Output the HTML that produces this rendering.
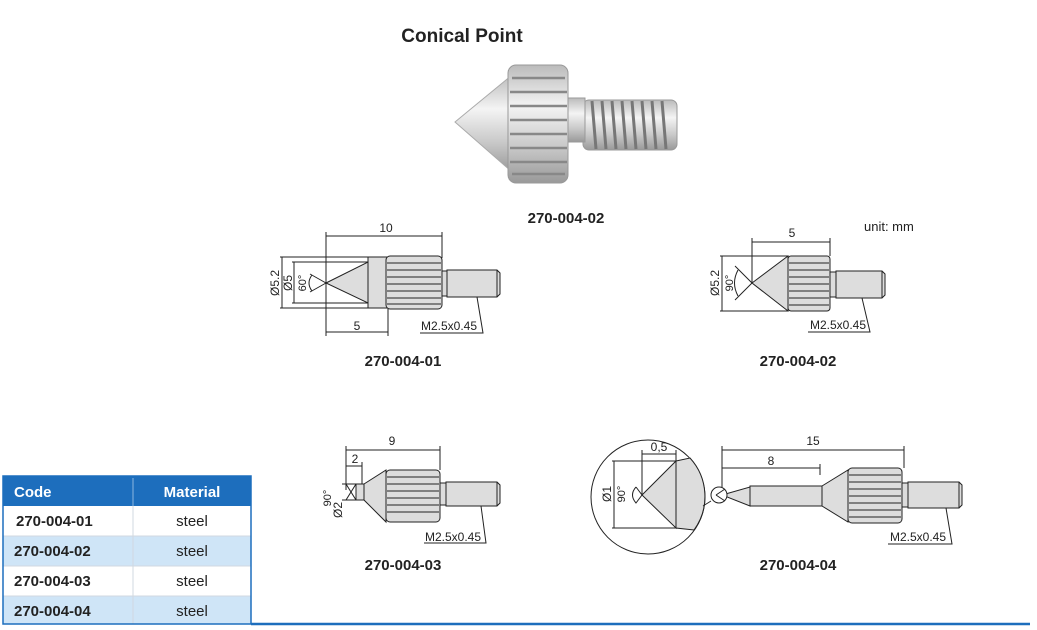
<!DOCTYPE html>
<html><head><meta charset="utf-8"><style>
html,body{margin:0;padding:0;background:#fff;}
svg{display:block;font-family:"Liberation Sans",Arial,sans-serif;}
.l{stroke:#222;stroke-width:1;fill:none}
.g{fill:#ddd;stroke:#222;stroke-width:1}
.t{font-size:12px;fill:#222}
.b{font-size:15px;font-weight:bold;fill:#222}
</style></head><body>
<svg width="1037" height="630" viewBox="0 0 1037 630">
<defs>
<linearGradient id="met" x1="0" y1="0" x2="0" y2="1">
<stop offset="0" stop-color="#bbb"/><stop offset="0.35" stop-color="#f4f4f4"/><stop offset="0.7" stop-color="#c8c8c8"/><stop offset="1" stop-color="#999"/>
</linearGradient>
</defs>
<text x="462" y="42" text-anchor="middle" style="font-size:19px;font-weight:bold" fill="#222">Conical Point</text>
<!-- photo -->
<polygon points="455,122 512,75 512,172" fill="url(#met)" stroke="#aaa"/>
<rect x="583" y="100" width="94" height="50" rx="6" fill="url(#met)" stroke="#999"/>
<g stroke="#777" stroke-width="3">
<line x1="592" y1="101" x2="596" y2="149"/><line x1="602" y1="101" x2="606" y2="149"/><line x1="612" y1="101" x2="616" y2="149"/><line x1="622" y1="101" x2="626" y2="149"/><line x1="632" y1="101" x2="636" y2="149"/><line x1="642" y1="101" x2="646" y2="149"/><line x1="652" y1="101" x2="656" y2="149"/><line x1="662" y1="101" x2="666" y2="149"/></g>
<rect x="563" y="98" width="22" height="44" fill="url(#met)" stroke="#999"/>
<rect x="508" y="65" width="60" height="118" rx="8" fill="url(#met)" stroke="#999"/>
<g stroke="#888" stroke-width="2.5">
<line x1="512" y1="78" x2="565" y2="78"/><line x1="510" y1="92" x2="567" y2="92"/><line x1="510" y1="106" x2="567" y2="106"/><line x1="510" y1="120" x2="567" y2="120"/><line x1="510" y1="134" x2="567" y2="134"/><line x1="510" y1="148" x2="567" y2="148"/><line x1="510" y1="162" x2="567" y2="162"/><line x1="512" y1="174" x2="565" y2="174"/></g>
<text x="566" y="223" text-anchor="middle" class="b">270-004-02</text>
<text x="864" y="231" class="t" style="font-size:13px">unit: mm</text>

<!-- Drawing 1 -->
<g>
<line class="l" x1="326" y1="232" x2="326" y2="336"/><line class="l" x1="442" y1="232" x2="442" y2="258"/>
<line class="l" x1="326" y1="236" x2="442" y2="236"/><text x="386" y="232" text-anchor="middle" class="t">10</text>
<line class="l" x1="388" y1="308" x2="388" y2="336"/>
<line class="l" x1="326" y1="332" x2="388" y2="332"/><text x="357" y="330" text-anchor="middle" class="t">5</text>
<rect class="g" x="368" y="257" width="20" height="51"/>
<polygon class="g" points="326,283 368,262 368,303"/>
<line class="l" x1="280" y1="257" x2="386" y2="257"/><line class="l" x1="280" y1="308" x2="386" y2="308"/>
<line class="l" x1="292" y1="262" x2="368" y2="262"/><line class="l" x1="292" y1="303" x2="368" y2="303"/>
<line class="l" x1="282" y1="257" x2="282" y2="308"/><line class="l" x1="294" y1="262" x2="294" y2="303"/>
<text transform="translate(279,283) rotate(-90)" text-anchor="middle" class="t">Ø5.2</text>
<text transform="translate(292,283) rotate(-90)" text-anchor="middle" class="t">Ø5</text>
<text transform="translate(306,283) rotate(-90)" text-anchor="middle" class="t" style="font-size:11px">60°</text>
<line class="l" x1="310" y1="274" x2="326" y2="283"/><line class="l" x1="310" y1="292" x2="326" y2="283"/>
<path class="l" d="M312,275 Q306,283 312,291"/>
<rect class="g" x="386" y="256" width="56" height="53" rx="4"/>
<g class="l"><line x1="387" y1="263" x2="441" y2="263"/><line x1="387" y1="270" x2="441" y2="270"/><line x1="387" y1="277" x2="441" y2="277"/><line x1="387" y1="284" x2="441" y2="284"/><line x1="387" y1="291" x2="441" y2="291"/><line x1="387" y1="298" x2="441" y2="298"/><line x1="387" y1="304" x2="441" y2="304"/></g>
<rect class="g" x="442" y="271" width="5" height="25"/>
<path class="g" d="M447,270 H497 L500,273 V294 L497,297 H447 Z"/>
<line class="l" x1="497" y1="270" x2="497" y2="297"/>
<polyline class="l" points="477,297 483,333 420,333"/>
<text x="421" y="330" class="t">M2.5x0.45</text>
<text x="403" y="366" text-anchor="middle" class="b">270-004-01</text>
</g>

<!-- Drawing 2 -->
<g>
<line class="l" x1="752" y1="238" x2="752" y2="283"/><line class="l" x1="830" y1="238" x2="830" y2="256"/>
<line class="l" x1="752" y1="242" x2="830" y2="242"/><text x="792" y="237" text-anchor="middle" class="t">5</text>
<polygon class="g" points="752,283 788,256 788,311"/>
<line class="l" x1="720" y1="256" x2="788" y2="256"/><line class="l" x1="720" y1="311" x2="788" y2="311"/>
<line class="l" x1="722" y1="256" x2="722" y2="311"/>
<text transform="translate(719,283) rotate(-90)" text-anchor="middle" class="t">Ø5.2</text>
<text transform="translate(733,283) rotate(-90)" text-anchor="middle" class="t" style="font-size:11px">90°</text>
<line class="l" x1="735" y1="266" x2="752" y2="283"/><line class="l" x1="735" y1="300" x2="752" y2="283"/>
<path class="l" d="M738,270 Q731,283 738,296"/>
<rect class="g" x="788" y="256" width="42" height="55" rx="3"/>
<g class="l"><line x1="789" y1="263" x2="829" y2="263"/><line x1="789" y1="270" x2="829" y2="270"/><line x1="789" y1="277" x2="829" y2="277"/><line x1="789" y1="284" x2="829" y2="284"/><line x1="789" y1="291" x2="829" y2="291"/><line x1="789" y1="298" x2="829" y2="298"/><line x1="789" y1="305" x2="829" y2="305"/></g>
<rect class="g" x="830" y="272" width="6" height="25"/>
<path class="g" d="M836,271 H882 L885,274 V295 L882,298 H836 Z"/>
<line class="l" x1="882" y1="271" x2="882" y2="298"/>
<polyline class="l" points="862,298 870,332 808,332"/>
<text x="810" y="329" class="t">M2.5x0.45</text>
<text x="798" y="366" text-anchor="middle" class="b">270-004-02</text>
</g>

<!-- Drawing 3 -->
<g>
<line class="l" x1="346" y1="446" x2="346" y2="490"/><line class="l" x1="440" y1="446" x2="440" y2="470"/>
<line class="l" x1="346" y1="450" x2="440" y2="450"/><text x="392" y="445" text-anchor="middle" class="t">9</text>
<line class="l" x1="362" y1="462" x2="362" y2="484"/>
<line class="l" x1="346" y1="466" x2="362" y2="466"/><text x="355" y="463" text-anchor="middle" class="t">2</text>
<rect class="g" x="356" y="484" width="8" height="16"/>
<polygon class="g" points="364,484 386,470 386,522 364,500"/>
<line class="l" x1="342" y1="484" x2="356" y2="484"/><line class="l" x1="342" y1="500" x2="356" y2="500"/>
<line class="l" x1="346" y1="484" x2="356" y2="500"/><line class="l" x1="346" y1="500" x2="356" y2="484"/>
<text transform="translate(331,498) rotate(-90)" text-anchor="middle" class="t" style="font-size:11px">90°</text>
<text transform="translate(342,510) rotate(-90)" text-anchor="middle" class="t">Ø2</text>
<rect class="g" x="386" y="470" width="54" height="52" rx="4"/>
<g class="l"><line x1="387" y1="477" x2="439" y2="477"/><line x1="387" y1="484" x2="439" y2="484"/><line x1="387" y1="491" x2="439" y2="491"/><line x1="387" y1="498" x2="439" y2="498"/><line x1="387" y1="505" x2="439" y2="505"/><line x1="387" y1="512" x2="439" y2="512"/></g>
<rect class="g" x="440" y="483" width="6" height="22"/>
<path class="g" d="M446,482 H497 L500,485 V503 L497,506 H446 Z"/>
<line class="l" x1="497" y1="482" x2="497" y2="506"/>
<polyline class="l" points="481,506 486,543 424,543"/>
<text x="425" y="541" class="t">M2.5x0.45</text>
<text x="403" y="570" text-anchor="middle" class="b">270-004-03</text>
</g>

<!-- Drawing 4 -->
<g>
<circle class="l" cx="648" cy="497" r="57"/>
<path d="M676,461 L690,458 A57,57 0 0 1 694,530 L676,528 Z" fill="#ddd" stroke="#222"/>
<polygon class="g" points="642,495 676,461 676,528"/>
<line class="l" x1="612" y1="461" x2="676" y2="461"/><line class="l" x1="612" y1="528" x2="676" y2="528"/>
<line class="l" x1="614" y1="461" x2="614" y2="528"/>
<line class="l" x1="642" y1="450" x2="642" y2="495"/><line class="l" x1="676" y1="450" x2="676" y2="461"/>
<line class="l" x1="642" y1="454" x2="676" y2="454"/><text x="659" y="451" text-anchor="middle" class="t">0,5</text>
<text transform="translate(611,494) rotate(-90)" text-anchor="middle" class="t">Ø1</text>
<text transform="translate(625,494) rotate(-90)" text-anchor="middle" class="t" style="font-size:11px">90°</text>
<path class="l" d="M636,487 L642,495 L636,503 Q629,495 636,487"/>
<line class="l" x1="703" y1="506" x2="711" y2="501"/>
<line class="l" x1="722" y1="446" x2="722" y2="495"/><line class="l" x1="904" y1="446" x2="904" y2="468"/>
<line class="l" x1="722" y1="450" x2="904" y2="450"/><text x="813" y="445" text-anchor="middle" class="t">15</text>
<line class="l" x1="820" y1="464" x2="820" y2="475"/>
<line class="l" x1="722" y1="468" x2="820" y2="468"/><text x="771" y="465" text-anchor="middle" class="t">8</text>
<polygon class="g" points="722,495 750,487 750,506"/>
<rect class="g" x="750" y="486" width="72" height="20"/>
<polygon class="g" points="822,486 848,470 848,522 822,506"/>
<rect class="g" x="848" y="468" width="54" height="55" rx="4"/>
<g class="l"><line x1="849" y1="475" x2="901" y2="475"/><line x1="849" y1="482" x2="901" y2="482"/><line x1="849" y1="489" x2="901" y2="489"/><line x1="849" y1="496" x2="901" y2="496"/><line x1="849" y1="503" x2="901" y2="503"/><line x1="849" y1="510" x2="901" y2="510"/><line x1="849" y1="517" x2="901" y2="517"/></g>
<rect class="g" x="902" y="483" width="6" height="24"/>
<path class="g" d="M908,482 H959 L962,485 V505 L959,508 H908 Z"/>
<line class="l" x1="959" y1="482" x2="959" y2="508"/>
<polyline class="l" points="946,508 952,544 888,544"/>
<text x="890" y="541" class="t">M2.5x0.45</text>
<circle cx="719" cy="495" r="8" fill="#fff" stroke="#222"/>
<line class="l" x1="716" y1="495" x2="725" y2="489"/><line class="l" x1="716" y1="495" x2="725" y2="501"/>
<text x="798" y="570" text-anchor="middle" class="b">270-004-04</text>
</g>

<!-- Table -->
<rect x="3" y="476" width="248" height="30" fill="#1d6ebd"/>
<line x1="133" y1="478" x2="133" y2="506" stroke="#8cb6e0"/>
<text x="14" y="497" style="font-size:15px;font-weight:bold" fill="#fff">Code</text>
<text x="192" y="497" text-anchor="middle" style="font-size:15px;font-weight:bold" fill="#fff">Material</text>
<rect x="3" y="506" width="248" height="30" fill="#fff"/>
<rect x="3" y="536" width="248" height="30" fill="#cfe5f7"/>
<rect x="3" y="566" width="248" height="30" fill="#fff"/>
<rect x="3" y="596" width="248" height="28" fill="#cfe5f7"/>
<g stroke="#d0d8e0"><line x1="3" y1="536" x2="251" y2="536"/><line x1="3" y1="566" x2="251" y2="566"/><line x1="3" y1="596" x2="251" y2="596"/><line x1="133" y1="506" x2="133" y2="624"/></g>
<rect x="3" y="476" width="248" height="148" fill="none" stroke="#1d6ebd" stroke-width="1.5"/>
<g style="font-size:15px;font-weight:bold" fill="#222">
<text x="16" y="526">270-004-01</text><text x="14" y="556">270-004-02</text><text x="14" y="586">270-004-03</text><text x="14" y="616">270-004-04</text></g>
<g style="font-size:15px" fill="#222" text-anchor="middle">
<text x="192" y="526">steel</text><text x="192" y="556">steel</text><text x="192" y="586">steel</text><text x="192" y="616">steel</text></g>
<line x1="251" y1="624" x2="1030" y2="624" stroke="#1d6ebd" stroke-width="2.5"/>
</svg>
</body></html>
